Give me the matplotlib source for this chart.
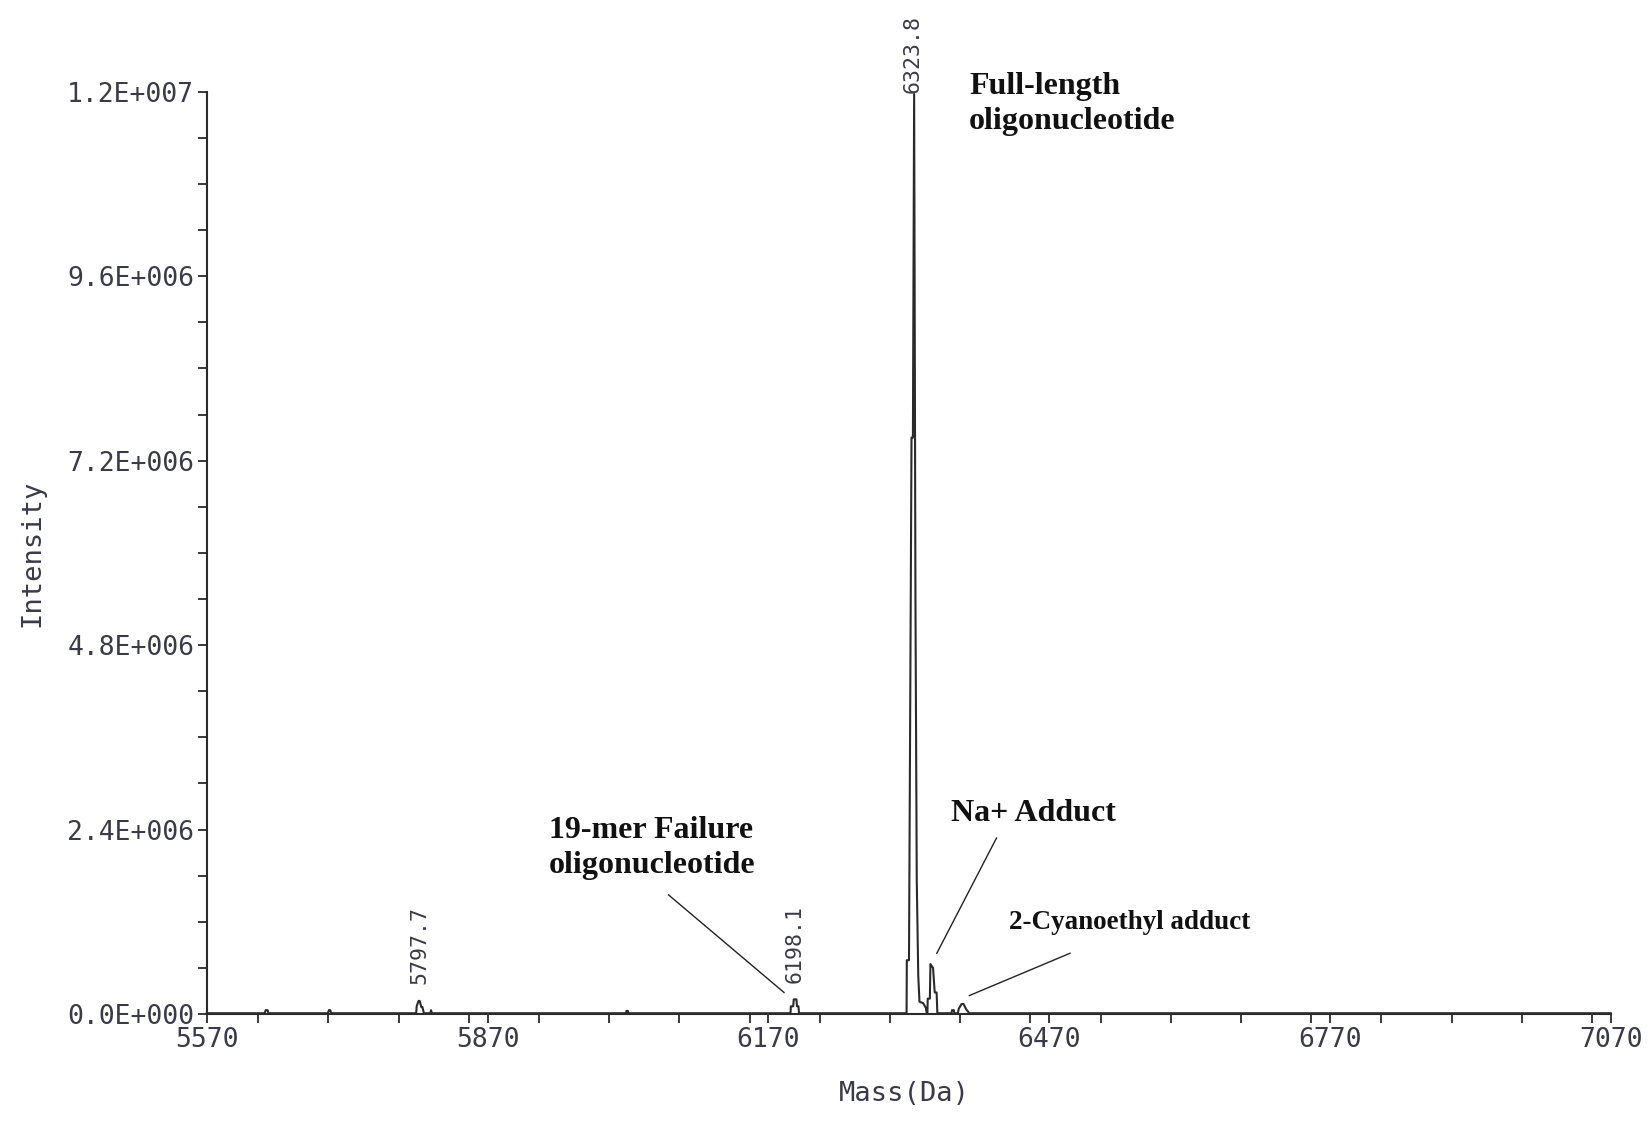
import numpy as np
import matplotlib
matplotlib.use('Agg')
import matplotlib.pyplot as plt
from matplotlib.ticker import FixedLocator, MultipleLocator

# spectrum trace (mass in Da, intensity in units of 1e6)
mass_da = [5570,
           5632, 5633, 5635, 5636,
           5699.5, 5700.5, 5702, 5703,
           5793.8, 5794.3, 5796.3, 5797.5, 5799.3, 5800.5, 5802, 5809, 5809.6, 5810.6,
           6018, 6018.5, 6020, 6020.5,
           6193.7, 6194.1, 6196.6, 6197.2, 6200.1, 6200.6, 6202.2, 6202.8,
           6317.7, 6318.0, 6320.3, 6323.0, 6324.5, 6325.8, 6327.2, 6328.6, 6330.2,
           6331.5, 6335.5, 6338.3, 6339.3, 6340.0, 6340.3, 6342.6, 6343.2, 6346.0,
           6347.8, 6349.8, 6350.6,
           6365.8, 6366.2, 6368.2, 6368.8,
           6372.5, 6373.5, 6376.5, 6378.5, 6381.5, 6383.5, 6384.5,
           7070]
intensity_e6 = [0.01,
                0.01, 0.05, 0.05, 0.01,
                0.01, 0.05, 0.05, 0.01,
                0.01, 0.10, 0.17, 0.17, 0.09, 0.09, 0.01, 0.01, 0.05, 0.01,
                0.01, 0.04, 0.04, 0.01,
                0.01, 0.10, 0.10, 0.19, 0.19, 0.10, 0.10, 0.01,
                0.01, 0.70, 0.70, 7.50, 7.50, 11.97, 5.40, 1.74, 0.50,
                0.16, 0.14, 0.08, 0.01, 0.01, 0.20, 0.20, 0.65, 0.60,
                0.28, 0.28, 0.01,
                0.01, 0.05, 0.05, 0.01,
                0.01, 0.07, 0.13, 0.13, 0.06, 0.03, 0.01,
                0.01]

peak_labels = [5797.7, 6198.1, 6323.8]

x_ticks = [5570, 5870, 6170, 6470, 6770, 7070]
y_ticks = [0, 2.4e6, 4.8e6, 7.2e6, 9.6e6, 1.2e7]
y_tick_labels = ['0.0E+000', '2.4E+006', '4.8E+006', '7.2E+006', '9.6E+006', '1.2E+007']

mass = np.array(mass_da)
inten = np.array(intensity_e6) * 1e6

mono = 'DejaVu Sans Mono'
serif = 'Liberation Serif'
txt_col = '#3a3a48'
line_col = '#2a2a2a'

fig = plt.figure(figsize=(16.48, 11.23), dpi=100)
ax = fig.add_axes([0.12543, 0.09706, 0.85194, 0.82128])

ax.plot(mass, inten, color=line_col, lw=1.5, clip_on=False)

ax.set_xlim(5570, 7070)
ax.set_ylim(0, 1.2e7)

for s in ['top', 'right']:
    ax.spines[s].set_visible(False)
for s in ['left', 'bottom']:
    ax.spines[s].set_color(line_col)
    ax.spines[s].set_linewidth(1.5)

ax.xaxis.set_major_locator(FixedLocator(x_ticks))
ax.xaxis.set_minor_locator(MultipleLocator(75))
ax.set_xticklabels([str(t) for t in x_ticks])
ax.yaxis.set_major_locator(FixedLocator(y_ticks))
ax.yaxis.set_minor_locator(MultipleLocator(6e5))
ax.set_yticklabels(y_tick_labels)

ax.tick_params(which='both', direction='out', length=6.5, width=1.3, color=line_col)
ax.tick_params(axis='both', which='major', labelsize=19, labelcolor=txt_col, pad=2.5)
for lab in ax.get_xticklabels() + ax.get_yticklabels():
    lab.set_family(mono)

ax.set_ylabel('Intensity', fontsize=19.5, family=mono, color=txt_col)
ax.yaxis.set_label_coords(-0.115, 0.5)
ax.set_xlabel('Mass(Da)', fontsize=19.5, family=mono, color=txt_col, va='top')
ax.xaxis.set_label_coords(0.497, -0.073)

# peak mass labels above the peaks
offsets = [12, 12, 0.5]
for m, off in zip(peak_labels, offsets):
    win = (mass > m - 6) & (mass < m + 6)
    top = inten[win].max()
    ax.annotate('{:.1f}'.format(m), xy=(m, top), xytext=(0, off),
                textcoords='offset points', rotation=90, ha='center', va='bottom',
                fontsize=15.5, family=mono, color=txt_col, annotation_clip=False)

# annotations
bold = dict(family=serif, fontweight='bold', color='#111111')
ax.text(6384.4, 11.84e6, 'Full-length\noligonucleotide', fontsize=23,
        ha='left', va='center', linespacing=1.25, **bold)
ax.text(6365.2, 2.61e6, 'Na+ Adduct', fontsize=23, ha='left', va='center', **bold)
ax.text(5935.4, 2.16e6, '19-mer Failure\noligonucleotide', fontsize=23,
        ha='left', va='center', linespacing=1.25, **bold)
ax.text(6427.2, 1.19e6, '2-Cyanoethyl adduct', fontsize=19.5,
        ha='left', va='center', **bold)

ax.plot([6413.8, 6350.0], [2.29e6, 0.79e6], color='#222222', lw=1.0)
ax.plot([6063.4, 6186.8], [1.55e6, 0.28e6], color='#222222', lw=1.0)
ax.plot([6492.3, 6384.8], [0.79e6, 0.24e6], color='#222222', lw=1.0)

fig.savefig('out.png', dpi=100)
